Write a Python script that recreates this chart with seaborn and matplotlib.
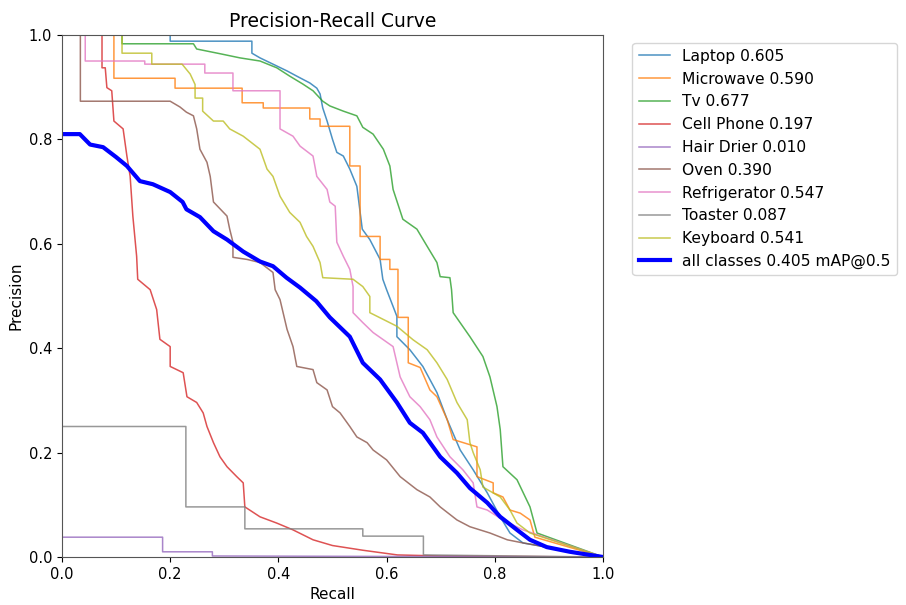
import matplotlib
matplotlib.use("Agg")
import matplotlib.pyplot as plt
import seaborn as sns
import pandas as pd

# ---- data ----
laptop_x = [0, 0.20, 0.20, 0.351, 0.351, 0.366, 0.39, 0.416, 0.434, 0.458, 0.471, 0.477, 0.482, 0.49, 0.50,
            0.508, 0.52, 0.532, 0.545, 0.555, 0.569, 0.588, 0.593, 0.60, 0.619, 0.619, 0.643, 0.667, 0.693,
            0.712, 0.736, 0.76, 0.786, 0.81, 0.828, 0.852, 1.0]
laptop_y = [1.0, 1.0, 0.988, 0.988, 0.965, 0.956, 0.944, 0.931, 0.921, 0.908, 0.898, 0.887, 0.86, 0.835, 0.80,
            0.775, 0.768, 0.743, 0.71, 0.628, 0.608, 0.57, 0.532, 0.512, 0.461, 0.422, 0.397, 0.365, 0.315,
            0.263, 0.205, 0.167, 0.123, 0.077, 0.046, 0.027, 0.0]

microwave_x = [0, 0.096, 0.096, 0.209, 0.209, 0.333, 0.333, 0.372, 0.372, 0.458, 0.458, 0.477, 0.477, 0.532,
               0.532, 0.551, 0.551, 0.588, 0.588, 0.606, 0.606, 0.621, 0.621, 0.64, 0.64, 0.662, 0.68, 0.693,
               0.712, 0.723, 0.767, 0.767, 0.797, 0.797, 0.815, 0.828, 0.847, 0.865, 0.874, 1.0]
microwave_y = [1, 1, 0.917, 0.917, 0.898, 0.898, 0.87, 0.87, 0.86, 0.86, 0.839, 0.839, 0.825, 0.825,
               0.749, 0.749, 0.614, 0.614, 0.57, 0.57, 0.551, 0.551, 0.459, 0.459, 0.372, 0.363, 0.32, 0.307,
               0.263, 0.225, 0.211, 0.154, 0.142, 0.123, 0.115, 0.09, 0.084, 0.071, 0.038, 0.0]

tv_x = [0, 0.111, 0.111, 0.243, 0.249, 0.292, 0.329, 0.366, 0.397, 0.421, 0.445, 0.464, 0.482, 0.495, 0.52,
        0.545, 0.556, 0.575, 0.594, 0.606, 0.612, 0.63, 0.656, 0.675, 0.693, 0.699, 0.717, 0.72, 0.723, 0.754,
        0.778, 0.791, 0.804, 0.81, 0.815, 0.841, 0.865, 0.878, 1.0]
tv_y = [1, 1, 0.983, 0.983, 0.973, 0.964, 0.956, 0.95, 0.937, 0.921, 0.906, 0.893, 0.873, 0.864, 0.854,
        0.845, 0.823, 0.81, 0.781, 0.749, 0.704, 0.647, 0.628, 0.595, 0.564, 0.537, 0.535, 0.512, 0.468, 0.422,
        0.384, 0.345, 0.288, 0.244, 0.173, 0.148, 0.096, 0.046, 0.0]

cellphone_x = [0, 0.074, 0.074, 0.08, 0.083, 0.092, 0.096, 0.113, 0.12, 0.126, 0.131, 0.138, 0.14, 0.163,
               0.175, 0.181, 0.2, 0.2, 0.224, 0.231, 0.249, 0.261, 0.268, 0.28, 0.292, 0.305, 0.323, 0.335,
               0.338, 0.366, 0.397, 0.427, 0.464, 0.5, 0.556, 0.62, 0.7, 1.0]
cellphone_y = [1, 1, 0.937, 0.937, 0.899, 0.893, 0.835, 0.82, 0.768, 0.729, 0.653, 0.576, 0.532, 0.512,
               0.474, 0.417, 0.403, 0.365, 0.353, 0.307, 0.296, 0.276, 0.25, 0.219, 0.192, 0.173, 0.154, 0.142,
               0.096, 0.077, 0.065, 0.052, 0.033, 0.022, 0.013, 0.004, 0.002, 0.0]

hairdrier_x = [0, 0.186, 0.186, 0.278, 0.278, 1.0]
hairdrier_y = [0.038, 0.038, 0.01, 0.01, 0.002, 0.0]

oven_x = [0, 0.034, 0.034, 0.2, 0.218, 0.23, 0.243, 0.249, 0.255, 0.268, 0.274, 0.28, 0.305, 0.31, 0.316,
          0.316, 0.342, 0.366, 0.39, 0.394, 0.403, 0.416, 0.427, 0.434, 0.464, 0.471, 0.49, 0.50, 0.514, 0.532,
          0.545, 0.564, 0.575, 0.60, 0.625, 0.656, 0.68, 0.699, 0.73, 0.754, 0.791, 0.823, 0.852, 1.0]
oven_y = [1, 1, 0.873, 0.873, 0.862, 0.852, 0.845, 0.82, 0.781, 0.756, 0.729, 0.68, 0.653, 0.628, 0.603,
          0.574, 0.57, 0.564, 0.545, 0.512, 0.493, 0.436, 0.403, 0.365, 0.359, 0.334, 0.32, 0.288, 0.276, 0.25,
          0.23, 0.219, 0.205, 0.186, 0.154, 0.129, 0.115, 0.096, 0.071, 0.058, 0.046, 0.033, 0.027, 0.0]

fridge_x = [0, 0.043, 0.043, 0.153, 0.153, 0.264, 0.264, 0.316, 0.316, 0.403, 0.403, 0.427, 0.44, 0.464,
            0.471, 0.49, 0.495, 0.505, 0.508, 0.52, 0.532, 0.538, 0.538, 0.556, 0.575, 0.612, 0.625, 0.643,
            0.662, 0.68, 0.693, 0.717, 0.741, 0.76, 0.767, 0.786, 0.815, 0.852, 1.0]
fridge_y = [1, 1, 0.95, 0.95, 0.944, 0.944, 0.927, 0.927, 0.893, 0.893, 0.82, 0.806, 0.787, 0.768,
            0.729, 0.704, 0.68, 0.672, 0.603, 0.576, 0.551, 0.518, 0.468, 0.449, 0.43, 0.403, 0.345, 0.307,
            0.288, 0.263, 0.23, 0.192, 0.167, 0.142, 0.096, 0.09, 0.071, 0.052, 0.0]

toaster_x = [0, 0.229, 0.229, 0.338, 0.338, 0.556, 0.556, 0.668, 0.668, 1.0]
toaster_y = [0.25, 0.25, 0.096, 0.096, 0.054, 0.054, 0.04, 0.04, 0.004, 0.0]

keyboard_x = [0, 0.111, 0.111, 0.166, 0.166, 0.222, 0.237, 0.246, 0.246, 0.26, 0.26, 0.28, 0.298, 0.31,
              0.335, 0.366, 0.379, 0.39, 0.403, 0.421, 0.44, 0.452, 0.464, 0.477, 0.482, 0.538, 0.556, 0.569,
              0.569, 0.594, 0.619, 0.649, 0.675, 0.693, 0.712, 0.73, 0.749, 0.754, 0.76, 0.773, 0.778, 0.81,
              0.828, 0.841, 0.865, 1.0]
keyboard_y = [1, 1, 0.965, 0.965, 0.944, 0.944, 0.925, 0.905, 0.879, 0.879, 0.854, 0.835, 0.835, 0.82,
              0.806, 0.781, 0.743, 0.729, 0.691, 0.66, 0.641, 0.614, 0.595, 0.564, 0.535, 0.532, 0.518, 0.499,
              0.468, 0.455, 0.442, 0.416, 0.397, 0.372, 0.34, 0.296, 0.263, 0.219, 0.2, 0.167, 0.134, 0.115,
              0.09, 0.065, 0.046, 0.0]

all_x = [0, 0.033, 0.052, 0.076, 0.10, 0.12, 0.144, 0.168, 0.20, 0.223, 0.23, 0.255, 0.28, 0.305, 0.335,
         0.366, 0.39, 0.415, 0.44, 0.47, 0.495, 0.532, 0.556, 0.588, 0.619, 0.643, 0.667, 0.699, 0.73, 0.754,
         0.786, 0.81, 0.841, 0.865, 0.896, 0.939, 1.0]
all_y = [0.81, 0.81, 0.79, 0.785, 0.766, 0.749, 0.72, 0.714, 0.699, 0.68, 0.666, 0.651, 0.624, 0.608, 0.585,
         0.566, 0.557, 0.535, 0.516, 0.49, 0.459, 0.422, 0.372, 0.34, 0.296, 0.257, 0.238, 0.192, 0.161, 0.132,
         0.104, 0.077, 0.052, 0.033, 0.019, 0.01, 0.0]

class_names = ["Laptop", "Microwave", "Tv", "Cell Phone", "Hair Drier", "Oven", "Refrigerator", "Toaster", "Keyboard"]
class_ap = [0.605, 0.590, 0.677, 0.197, 0.010, 0.390, 0.547, 0.087, 0.541]
mean_ap = 0.405
series_x = [laptop_x, microwave_x, tv_x, cellphone_x, hairdrier_x, oven_x, fridge_x, toaster_x, keyboard_x]
series_y = [laptop_y, microwave_y, tv_y, cellphone_y, hairdrier_y, oven_y, fridge_y, toaster_y, keyboard_y]

# ---- figure ----
fig = plt.figure(figsize=(9.06, 6.05), dpi=100)
ax = fig.add_axes([0.0684, 0.0793, 0.5972, 0.8630])
palette = sns.color_palette("tab10", 10)

for i, (name, ap, xs, ys) in enumerate(zip(class_names, class_ap, series_x, series_y)):
    df = pd.DataFrame({"recall": xs, "precision": ys})
    sns.lineplot(data=df, x="recall", y="precision", ax=ax, sort=False, estimator=None,
                 color=palette[i], linewidth=1.1, alpha=0.8, label=f"{name} {ap:.3f}")

df_all = pd.DataFrame({"recall": all_x, "precision": all_y})
sns.lineplot(data=df_all, x="recall", y="precision", ax=ax, sort=False, estimator=None,
             color="blue", linewidth=3, label=f"all classes {mean_ap:.3f} mAP@0.5")

ax.set_xlim(0, 1)
ax.set_ylim(0, 1)
ax.set_xlabel("Recall", fontsize=11)
ax.set_ylabel("Precision", fontsize=11)
ax.set_title("Precision-Recall Curve", fontsize=13.5)
ax.tick_params(labelsize=10.5)
for sp in ax.spines.values():
    sp.set_color("#555555")
ax.legend(bbox_to_anchor=(1.04, 1), loc="upper left", fontsize=11.2)

fig.savefig("out.png", dpi=100)
